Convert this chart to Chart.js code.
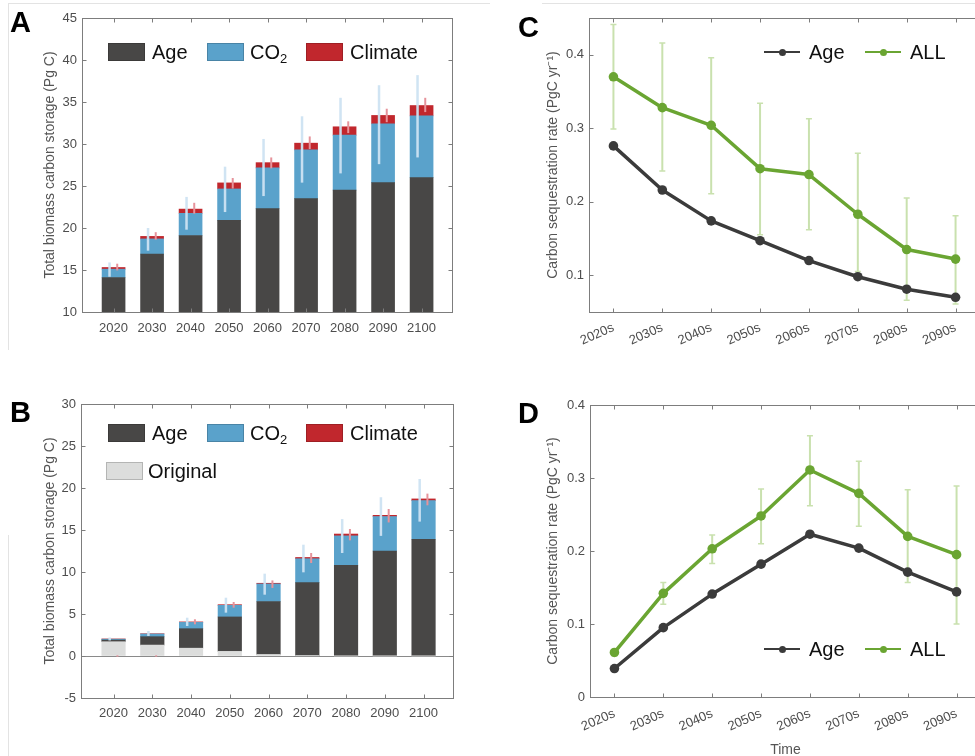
<!DOCTYPE html>
<html><head><meta charset="utf-8">
<script src="https://cdn.jsdelivr.net/npm/chart.js@4.4.0/dist/chart.umd.min.js"></script>
<style>
html,body{margin:0;padding:0;background:#fff;overflow:hidden;width:975px;height:756px;}
body{position:relative;font-family:"Liberation Sans",Arial,Helvetica,sans-serif;}
canvas{position:absolute;display:block;}
.plabel{position:absolute;font-weight:bold;font-size:29px;line-height:1;color:#000;}
.sw{position:absolute;box-sizing:border-box;border:1px solid rgba(0,0,0,0.18);}
.lt{position:absolute;font-size:20px;color:#111;white-space:nowrap;}
.lt sub{font-size:13px;vertical-align:-4px;line-height:0;}
.ls{position:absolute;height:2px;}
.ld{position:absolute;width:7px;height:7px;border-radius:50%;}
.frame{position:absolute;background:#e3e3e3;}
</style>
</head><body>
<div class="frame" style="left:8px;top:3px;width:482px;height:1px"></div>
<div class="frame" style="left:8px;top:3px;width:1px;height:347px"></div>
<div class="frame" style="left:542px;top:3px;width:433px;height:1px"></div>
<div class="frame" style="left:8px;top:535px;width:1px;height:221px"></div>

<canvas id="cA" width="490" height="350" style="left:0;top:0"></canvas>
<canvas id="cB" width="490" height="366" style="left:0;top:390px"></canvas>
<canvas id="cC" width="470" height="360" style="left:520px;top:0"></canvas>
<canvas id="cD" width="470" height="366" style="left:520px;top:390px"></canvas>

<div class="plabel" style="left:10px;top:8px">A</div>
<div class="plabel" style="left:10px;top:398px">B</div>
<div class="plabel" style="left:518px;top:13px">C</div>
<div class="plabel" style="left:518px;top:399px">D</div>
<div id="legends"></div>

<script>
// ---------------- data ----------------
const years = [2020, 2030, 2040, 2050, 2060, 2070, 2080, 2090, 2100];
const decades = ['2020s', '2030s', '2040s', '2050s', '2060s', '2070s', '2080s', '2090s'];

// Panel A: stacked contributions (Pg C)
const ageA  = [14.1, 16.9, 19.1, 20.9, 22.3, 23.5, 24.5, 25.4, 26.0];
const co2A  = [1.0, 1.8, 2.65, 3.75, 4.85, 5.8, 6.55, 7.0, 7.35];
const climA = [0.2, 0.3, 0.5, 0.72, 0.63, 0.8, 1.0, 1.0, 1.23];
const co2ErrLoA  = [14.2, 17.3, 19.8, 21.9, 23.8, 25.4, 26.5, 27.6, 28.4];
const co2ErrHiA  = [15.9, 20.0, 23.7, 27.3, 30.6, 33.3, 35.5, 37.0, 38.2];
const climErrLoA = [14.95, 18.6, 21.7, 24.7, 27.1, 29.4, 31.3, 32.6, 33.8];
const climErrHiA = [15.75, 19.5, 23.0, 25.95, 28.4, 30.9, 32.7, 34.2, 35.5];
const yTicksA = [10, 15, 20, 25, 30, 35, 40, 45];

// Panel B
const origB = [1.7, 1.3, 0.93, 0.55, 0.18, 0.03, 0, 0, 0];
const ageB  = [0.2, 1.0, 2.32, 4.1, 6.3, 8.7, 10.8, 12.5, 13.9];
const co2B  = [0.1, 0.32, 0.75, 1.38, 2.1, 2.85, 3.5, 4.1, 4.6];
const climB = [0.03, 0.03, 0.06, 0.08, 0.08, 0.15, 0.22, 0.15, 0.2];
const co2ErrLoB  = [1.85, 2.38, 3.57, 5.16, 7.3, 9.96, 12.26, 14.3, 16.0];
const co2ErrHiB  = [2.2, 2.98, 4.56, 6.94, 9.8, 13.25, 16.3, 18.9, 21.07];
const climErrLoB = [-0.08, -0.08, 3.77, 5.75, 8.1, 11.07, 13.77, 15.9, 17.94];
const climErrHiB = [0.08, 0.08, 4.37, 6.43, 9.0, 12.26, 15.12, 17.5, 19.33];
const yTicksB = [-5, 0, 5, 10, 15, 20, 25, 30];

// Panel C: sequestration rate (PgC/yr)
const ageC = [0.276, 0.216, 0.174, 0.147, 0.120, 0.098, 0.081, 0.070];
const allC = [0.370, 0.328, 0.304, 0.245, 0.237, 0.183, 0.135, 0.122];
const allErrLoC = [0.299, 0.242, 0.211, 0.155, 0.162, 0.105, 0.066, 0.061];
const allErrHiC = [0.441, 0.416, 0.396, 0.334, 0.313, 0.266, 0.205, 0.181];
const yTicksC = [0.1, 0.2, 0.3, 0.4];

// Panel D
const ageD = [0.039, 0.095, 0.141, 0.182, 0.223, 0.204, 0.171, 0.144];
const allD = [0.061, 0.142, 0.203, 0.248, 0.311, 0.279, 0.220, 0.195];
const allErrLoD = [0.056, 0.127, 0.183, 0.210, 0.262, 0.234, 0.157, 0.100];
const allErrHiD = [0.065, 0.157, 0.222, 0.285, 0.358, 0.323, 0.284, 0.289];
const yTicksD = [0, 0.1, 0.2, 0.3, 0.4];

// ---------------- styles ----------------
const FONT = '"Liberation Sans", Arial, Helvetica, sans-serif';
Chart.defaults.font.family = FONT;
Chart.defaults.color = '#4d4d4d';
const AGE_COL = '#484746', CO2_COL = '#5aa2cb', CLIM_COL = '#c1272d', ORIG_COL = '#dcdddc';
const CO2_ERR = 'rgba(206,227,242,0.95)', CLIM_ERR = '#e6939b';
const LINE_AGE = '#3b3b3b', LINE_ALL = '#6aa532', ERR_ALL = '#c9e1ae';
const TICK_COL = '#4d4d4d', TITLE_COL = '#555555', BOX_COL = '#7d7d7d';

const boxPlugin = {
  id: 'matlabBox',
  afterDraw(chart) {
    const {ctx, chartArea: a, scales: {x, y}} = chart;
    ctx.save();
    ctx.strokeStyle = BOX_COL; ctx.lineWidth = 1;
    const L = Math.round(a.left) + 0.5, T = Math.round(a.top) + 0.5;
    const R = Math.round(a.right) + 0.5, B = Math.round(a.bottom) + 0.5;
    ctx.strokeRect(L, T, R - L, B - T);
    const len = 4;
    ctx.beginPath();
    x.ticks.forEach((t, i) => {
      const px = Math.round(x.getPixelForTick(i)) + 0.5;
      ctx.moveTo(px, B); ctx.lineTo(px, B - len);
      ctx.moveTo(px, T); ctx.lineTo(px, T + len);
    });
    y.ticks.forEach((t, i) => {
      const py = Math.round(y.getPixelForTick(i)) + 0.5;
      ctx.moveTo(L, py); ctx.lineTo(L + len, py);
      ctx.moveTo(R, py); ctx.lineTo(R - len, py);
    });
    ctx.stroke();
    ctx.restore();
  }
};

function yAxis(ticksArr, min, max, width, titleText, titlePad, zeroLine) {
  return {
    min, max,
    afterBuildTicks: s => { s.ticks = ticksArr.map(v => ({value: v})); },
    ticks: {padding: 5, color: TICK_COL, font: {size: 13}, callback: v => String(v)},
    grid: {display: !!zeroLine, drawTicks: false, color: c => (c.tick && c.tick.value === 0) ? '#8a8a8a' : 'rgba(0,0,0,0)'},
    border: {display: false},
    title: {display: true, text: titleText, color: TITLE_COL, font: {size: 14}, padding: {top: titlePad, bottom: 0}},
    afterFit: s => { s.width = width; }
  };
}

function barChart(id, o) {
  const datasets = [];
  o.stacks.forEach(s => datasets.push({
    type: 'bar', label: s.label,
    data: years.map((yr, i) => ({x: yr, y: s.values[i]})),
    backgroundColor: s.color, borderWidth: 0, stack: 'main', barThickness: o.barW, order: 2
  }));
  o.errs.forEach((e, k) => datasets.push({
    type: 'bar', label: e.label,
    data: years.map((yr, i) => ({x: yr + e.dx, y: [e.lo[i], e.hi[i]]})),
    backgroundColor: e.color, borderWidth: 0, grouped: false, maxBarThickness: e.w, stack: 'err' + k, order: 0
  }));
  return new Chart(document.getElementById(id), {
    type: 'bar',
    data: {datasets},
    plugins: [boxPlugin],
    options: {
      responsive: false, animation: false, events: [], devicePixelRatio: 1,
      layout: {padding: o.pad},
      plugins: {legend: {display: false}, tooltip: {enabled: false}},
      scales: {
        x: {
          type: 'linear', min: o.xmin, max: o.xmax, offset: false,
          afterBuildTicks: s => { s.ticks = years.map(v => ({value: v})); },
          ticks: {padding: o.xpad, color: TICK_COL, font: {size: 13}, maxRotation: 0, autoSkip: false, callback: v => String(v)},
          grid: {display: false, drawTicks: false}, border: {display: false},
          afterFit: s => { s.height = o.xh; }
        },
        y: Object.assign(yAxis(o.yticks, o.ymin, o.ymax, o.yw, 'Total biomass carbon storage (Pg C)', o.tpad, o.zero), {stacked: true})
      }
    }
  });
}

function lineChart(id, o) {
  const pt = {borderWidth: 3.5, pointRadius: 4.8, pointHoverRadius: 4.8, pointBorderWidth: 0, borderJoinStyle: 'round', borderCapStyle: 'round', tension: 0};
  const datasets = [
    Object.assign({type: 'line', label: 'Age', data: o.age, borderColor: LINE_AGE, backgroundColor: LINE_AGE, pointBackgroundColor: LINE_AGE, order: 1}, pt),
    Object.assign({type: 'line', label: 'ALL', data: o.all, borderColor: LINE_ALL, backgroundColor: LINE_ALL, pointBackgroundColor: LINE_ALL, order: 0}, pt),
    {type: 'bar', label: 'ALL range', data: o.lo.map((v, i) => [v, o.hi[i]]), backgroundColor: ERR_ALL, borderWidth: 0, maxBarThickness: 2, order: 5},
    {type: 'line', label: 'ALL range low', data: o.lo, showLine: false, pointStyle: 'line', pointRadius: 3, pointBorderColor: ERR_ALL, pointBorderWidth: 1.5, order: 4},
    {type: 'line', label: 'ALL range high', data: o.hi, showLine: false, pointStyle: 'line', pointRadius: 3, pointBorderColor: ERR_ALL, pointBorderWidth: 1.5, order: 4}
  ];
  const xAxis = {
    type: 'category', labels: decades, offset: true,
    ticks: {padding: o.xpad, color: TICK_COL, font: {size: 13}, minRotation: 24, maxRotation: 24, autoSkip: false},
    grid: {display: false, drawTicks: false}, border: {display: false},
    afterFit: s => { s.height = o.xh; }
  };
  if (o.xtitle) xAxis.title = {display: true, text: o.xtitle, color: TITLE_COL, font: {size: 14}, padding: {top: 0, bottom: -3}};
  return new Chart(document.getElementById(id), {
    type: 'line',
    data: {labels: decades, datasets},
    plugins: [boxPlugin],
    options: {
      responsive: false, animation: false, events: [], devicePixelRatio: 1,
      layout: {padding: o.pad},
      plugins: {legend: {display: false}, tooltip: {enabled: false}},
      scales: {
        x: xAxis,
        y: yAxis(o.yticks, o.ymin, o.ymax, o.yw, 'Carbon sequestration rate (PgC yr\u207B\u00B9)', o.tpad, false)
      }
    }
  });
}

barChart('cA', {
  stacks: [
    {label: 'Age', values: ageA, color: AGE_COL},
    {label: 'CO2', values: co2A, color: CO2_COL},
    {label: 'Climate', values: climA, color: CLIM_COL}
  ],
  errs: [
    {label: 'CO2 range', lo: co2ErrLoA, hi: co2ErrHiA, color: CO2_ERR, dx: -1.05, w: 2.5},
    {label: 'Climate range', lo: climErrLoA, hi: climErrHiA, color: CLIM_ERR, dx: 0.95, w: 2}
  ],
  xmin: 2011.8, xmax: 2107.9, barW: 23, ymin: 10, ymax: 45, yticks: yTicksA,
  pad: {left: 0, top: 18, right: 38, bottom: 0}, yw: 82, xh: 38, xpad: 9, tpad: 42, zero: false
});

barChart('cB', {
  stacks: [
    {label: 'Original', values: origB, color: ORIG_COL},
    {label: 'Age', values: ageB, color: AGE_COL},
    {label: 'CO2', values: co2B, color: CO2_COL},
    {label: 'Climate', values: climB, color: CLIM_COL}
  ],
  errs: [
    {label: 'CO2 range', lo: co2ErrLoB, hi: co2ErrHiB, color: CO2_ERR, dx: -1.0, w: 2.5},
    {label: 'Climate range', lo: climErrLoB, hi: climErrHiB, color: CLIM_ERR, dx: 1.0, w: 2}
  ],
  xmin: 2011.6, xmax: 2107.6, barW: 23.5, ymin: -5, ymax: 30, yticks: yTicksB,
  pad: {left: 0, top: 14, right: 37, bottom: 0}, yw: 81, xh: 58, xpad: 8, tpad: 42, zero: true
});

lineChart('cC', {
  age: ageC, all: allC, lo: allErrLoC, hi: allErrHiC,
  ymin: 0.05, ymax: 0.45, yticks: yTicksC,
  pad: {left: 0, top: 18, right: 10, bottom: 0}, yw: 69, xh: 48, xpad: 8, tpad: 25
});

lineChart('cD', {
  age: ageD, all: allD, lo: allErrLoD, hi: allErrHiD,
  ymin: 0, ymax: 0.4, yticks: yTicksD, xtitle: 'Time',
  pad: {left: 0, top: 15, right: 9, bottom: 0}, yw: 70, xh: 59, xpad: 9, tpad: 25
});

// ---------------- legends (HTML text) ----------------
const legendItems = [
  // panel A
  {kind: 'box', html: 'Age', color: AGE_COL, x: 108, y: 43, tx: 152},
  {kind: 'box', html: 'CO<sub>2</sub>', color: CO2_COL, x: 207, y: 43, tx: 250},
  {kind: 'box', html: 'Climate', color: CLIM_COL, x: 306, y: 43, tx: 350},
  // panel B
  {kind: 'box', html: 'Age', color: AGE_COL, x: 108, y: 424, tx: 152},
  {kind: 'box', html: 'CO<sub>2</sub>', color: CO2_COL, x: 207, y: 424, tx: 250},
  {kind: 'box', html: 'Climate', color: CLIM_COL, x: 306, y: 424, tx: 350},
  {kind: 'box', html: 'Original', color: ORIG_COL, x: 106, y: 462, tx: 148},
  // panel C
  {kind: 'line', html: 'Age', color: LINE_AGE, x: 764, y: 43, tx: 809},
  {kind: 'line', html: 'ALL', color: LINE_ALL, x: 865, y: 43, tx: 910},
  // panel D
  {kind: 'line', html: 'Age', color: LINE_AGE, x: 764, y: 640, tx: 809},
  {kind: 'line', html: 'ALL', color: LINE_ALL, x: 865, y: 640, tx: 910}
];
const lg = document.getElementById('legends');
legendItems.forEach(it => {
  const h = 18;
  if (it.kind === 'box') {
    const b = document.createElement('div');
    b.className = 'sw';
    b.style.cssText = `left:${it.x}px;top:${it.y}px;width:37px;height:${h}px;background:${it.color}`;
    lg.appendChild(b);
  } else {
    const s = document.createElement('div');
    s.className = 'ls';
    s.style.cssText = `left:${it.x}px;top:${it.y + h / 2 - 1}px;width:36px;background:${it.color}`;
    lg.appendChild(s);
    const d = document.createElement('div');
    d.className = 'ld';
    d.style.cssText = `left:${it.x + 14.5}px;top:${it.y + h / 2 - 3.5}px;background:${it.color}`;
    lg.appendChild(d);
  }
  const t = document.createElement('div');
  t.className = 'lt';
  t.style.cssText = `left:${it.tx}px;top:${it.y - 2}px;line-height:${h + 4}px`;
  t.innerHTML = it.html;
  lg.appendChild(t);
});
</script>
</body></html>
